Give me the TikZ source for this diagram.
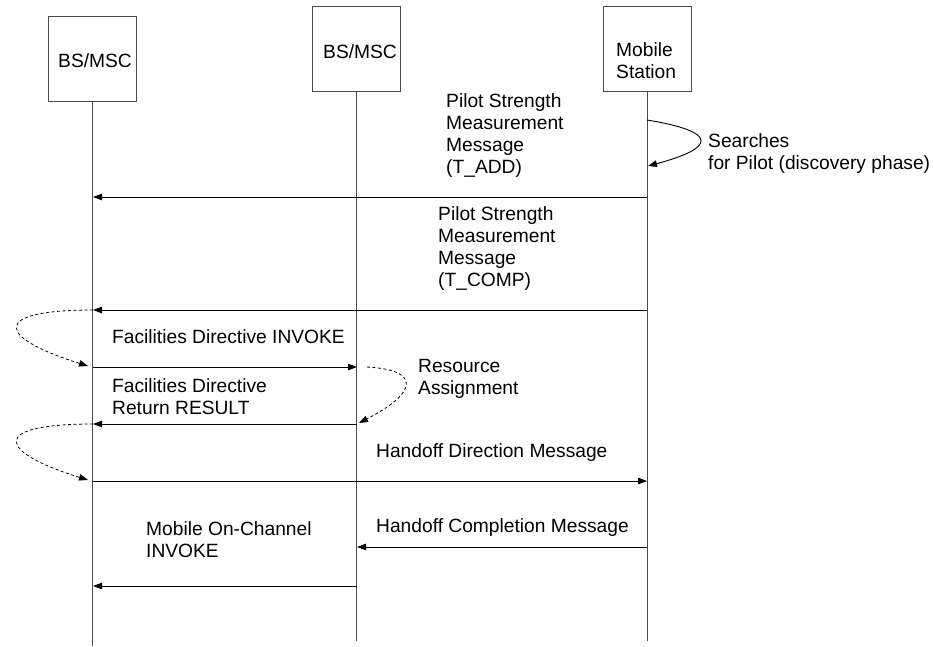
\documentclass[tikz,border=0pt]{standalone}
\usepackage{fontspec}
\setmainfont{Liberation Sans}
\usetikzlibrary{arrows.meta}

\begin{document}
\begin{tikzpicture}[
    x=1pt, y=-1pt,
    % Global styles
    entity/.style={rectangle, draw=black!70, fill=white, minimum width=88pt, minimum height=85pt, inner sep=0pt},
    lifeline/.style={draw=black!70, line width=1pt},
    msg/.style={-{Triangle[length=9pt, width=6.5pt]}, line width=0.9pt},
    loopmsg/.style={msg, dashed, dash pattern=on 3pt off 2.5pt, line width=0.8pt},
    txt/.style={anchor=north west, inner sep=0pt, align=left, font=\fontsize{19.2}{22}\selectfont}
    ]
    \useasboundingbox (0,0) rectangle (933,646);

    % ===========================
    % ENTITIES
    % ===========================
    \node[entity] (bs1) at (92.5,58.5) {};
    \node[entity] (bs2) at (356.5,49) {};
    \node[entity] (ms) at (647,49) {};

    \node[txt, anchor=center] (bs1text) at (95,61) {BS/MSC};
    \node[txt, anchor=center] (bs2text) at (360,52) {BS/MSC};
    \node[txt] (mstext) at (616,42) {Mobile\\Station};

    % Lifeline ends
    \coordinate (bs1end) at (92.5,646);
    \coordinate (bs2end) at (356.5,641);
    \coordinate (msend) at (647,641);

    \draw[lifeline] (bs1) -- (bs1end);
    \draw[lifeline] (bs2) -- (bs2end);
    \draw[lifeline] (ms) -- (msend);

    % ===========================
    % POINTS ON THE LIFELINES
    % ===========================
    \coordinate (s1) at (647,120);
    \coordinate (s2) at (648,166);
    \coordinate (m1a) at (647,197);  \coordinate (m1b) at (93,197);
    \coordinate (m2a) at (647,310);  \coordinate (m2b) at (93,310);
    \coordinate (d1) at (88,366);
    \coordinate (m3a) at (93,367);   \coordinate (m3b) at (357,367);
    \coordinate (r1) at (367,367);
    \coordinate (r2) at (359,423);
    \coordinate (m4a) at (357,424);  \coordinate (m4b) at (93,424);
    \coordinate (d2) at (88,480);
    \coordinate (m5a) at (93,481);   \coordinate (m5b) at (647,481);
    \coordinate (m6a) at (647,547);  \coordinate (m6b) at (357,547);
    \coordinate (m7a) at (357,586);  \coordinate (m7b) at (93,586);

    % ===========================
    % MESSAGES
    % ===========================
    % Pilot search (self loop)
    \draw[msg] (s1) .. controls (720,132) and (715,148) .. (s2);
    \node[txt] (search) at (708,133) {Searches\\for Pilot (discovery phase)};

    % Pilot strength T_ADD
    \node[txt] (psm1) at (446,93) {Pilot Strength\\Measurement\\Message\\(T\_ADD)};
    \draw[msg] (m1a) -- (m1b);

    % Pilot strength T_COMP
    \node[txt] (psm2) at (438,206) {Pilot Strength\\Measurement\\Message\\(T\_COMP)};
    \draw[msg] (m2a) -- (m2b);

    % Facilities directive
    \draw[loopmsg] (m2b) .. controls (-12,310) and (-2,338) .. (d1);
    \node[txt] (fdinv) at (112,329) {Facilities Directive INVOKE};
    \draw[msg] (m3a) -- (m3b);

    % Resource assignment
    \draw[loopmsg] (r1) .. controls (422,370) and (417,393) .. (r2);
    \node[txt] (resas) at (418,359) {Resource\\Assignment};

    % Return result
    \node[txt] (fdres) at (112,378) {Facilities Directive\\Return RESULT};
    \draw[msg] (m4a) -- (m4b);

    % Handoff direction
    \draw[loopmsg] (m4b) .. controls (-12,424) and (-2,452) .. (d2);
    \node[txt] (hodir) at (376,443) {Handoff Direction Message};
    \draw[msg] (m5a) -- (m5b);

    % Handoff completion
    \node[txt] (hocomp) at (376,518) {Handoff Completion Message};
    \draw[msg] (m6a) -- (m6b);

    % Mobile on-channel
    \node[txt] (moch) at (146,521) {Mobile On-Channel\\INVOKE};
    \draw[msg] (m7a) -- (m7b);

\end{tikzpicture}
\end{document}
